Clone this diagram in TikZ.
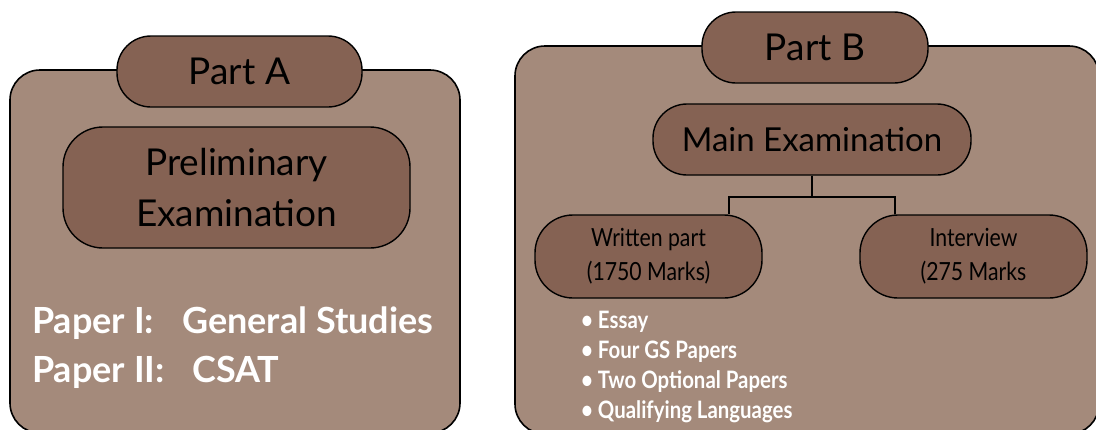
\documentclass[tikz,border=0pt]{standalone}
\usepackage{fontspec}
\setmainfont{Lato}
\newfontfamily\condfont[FakeStretch=0.85]{Lato}
\definecolor{outerfill}{RGB}{164,138,123}
\definecolor{pillfill}{RGB}{133,98,83}
\begin{document}
\begin{tikzpicture}[x=1pt,y=-1pt,
  outerbox/.style={draw=black, line width=1.6pt, fill=outerfill, rounded corners=30pt, inner sep=0pt},
  pill/.style={draw=black, line width=1.4pt, fill=pillfill, rounded corners=#1, inner sep=0pt, align=center, text=black},
  conn/.style={draw=black, line width=2pt},
  bigtxt/.style={font=\fontsize{37}{51}\selectfont},
  midtxt/.style={font=\fontsize{33}{40}\selectfont},
  smalltxt/.style={font=\condfont\fontsize{25}{34}\selectfont},
  papertxt/.style={anchor=base west, inner sep=0pt, text=white, font=\bfseries\fontsize{36}{42}\selectfont},
  bullettxt/.style={anchor=base west, inner sep=0pt, text=white, font=\condfont\bfseries\fontsize{24}{30}\selectfont}]
\useasboundingbox (0,0) rectangle (1096,429);
\clip (0,0) rectangle (1096,429);
% outer boxes
\node[outerbox, minimum width=450pt, minimum height=363pt] (outerA) at (235,251.5) {};
\node[outerbox, minimum width=584pt, minimum height=388pt] (outerB) at (807,240) {};
% Part A
\node[pill=34pt, minimum width=245pt, minimum height=71pt, bigtxt] (partA) at (239.5,71.5) {Part A};
\node[pill=40pt, minimum width=347pt, minimum height=121pt, bigtxt] (prelim) at (236.5,187.5) {Preliminary\\Examination};
\node[papertxt] (p1) at (32,333) {Paper I:};
\node[papertxt] (p1s) at (182,333) {General Studies};
\node[papertxt] (p2) at (32,382) {Paper II:};
\node[papertxt] (p2s) at (192,382) {CSAT};
% Part B
\node[pill=34pt, minimum width=226pt, minimum height=71pt, bigtxt] (partB) at (815,47.5) {Part B};
\node[pill=34pt, minimum width=318pt, minimum height=71pt, midtxt] (main) at (812,139.5) {Main Examination};
\node[pill=38pt, minimum width=227pt, minimum height=83pt, smalltxt] (written) at (648.5,256.5) {Written part\\(1750 Marks)};
\node[pill=38pt, minimum width=227pt, minimum height=83pt, smalltxt] (interview) at (973.5,256.5) {Interview\\(275 Marks};
% connectors
\coordinate (jl) at (729,197);
\coordinate (jr) at (895,197);
\draw[conn] (main.south) |- (jl) -- (jl |- written.north);
\draw[conn] (main.south) |- (jr) -- (jr |- interview.north);
% bullets
\node[bullettxt] (b1) at (581,328) {• Essay};
\node[bullettxt] (b2) at (581,358) {• Four GS Papers};
\node[bullettxt] (b3) at (581,388) {• Two Optional Papers};
\node[bullettxt] (b4) at (581,418) {• Qualifying Languages};
\end{tikzpicture}
\end{document}
